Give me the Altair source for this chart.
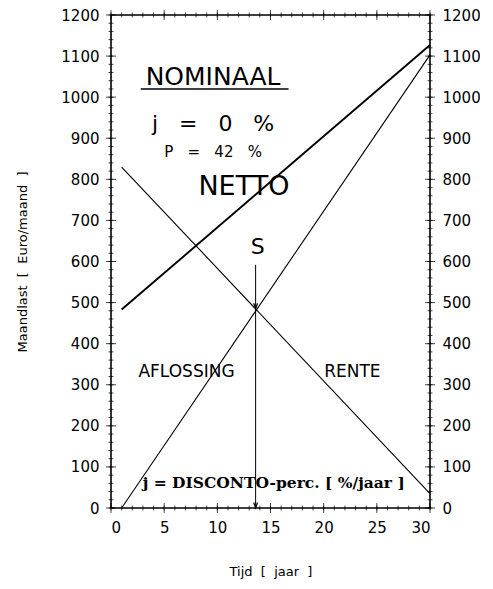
import altair as alt
import pandas as pd

# ---- data ----
netto_x = [1, 30]
netto_y = [483, 1127]
rente_x = [1, 30]
rente_y = [830, 35]
afl_x = [1, 30]
afl_y = [0, 1103]

x_ticks_major = [0, 5, 10, 15, 20, 25, 30]
x_ticks_minor = list(range(0, 31))
y_ticks_major = list(range(0, 1201, 100))
y_ticks_minor = list(range(0, 1201, 20))

s_year = 13.6
s_top = 592
arrow_heads = [485, 0]

FONT = "DejaVu Sans"
XDOM = [0, 30]
YDOM = [0, 1200]
NB = "\u00a0"

netto_df = pd.DataFrame({"series": "NETTO", "jaar": netto_x, "last": netto_y})
thin_df = pd.concat([
    pd.DataFrame({"series": "RENTE", "jaar": rente_x, "last": rente_y}),
    pd.DataFrame({"series": "AFLOSSING", "jaar": afl_x, "last": afl_y}),
])

xs = alt.Scale(domain=XDOM, nice=False, zero=False)
ys = alt.Scale(domain=YDOM, nice=False, zero=False)

AX = dict(labelFont=FONT, labelFontSize=15, labelColor="black", titleFont=FONT, titleFontSize=13,
          titleFontWeight="normal", titleColor="black", format="d")

netto = alt.Chart(netto_df).mark_line(color="black", strokeWidth=1.9).encode(
    x=alt.X("jaar:Q", scale=xs, axis=alt.Axis(orient="bottom", values=x_ticks_major, ticks=False, domain=False,
                                              grid=False, labelPadding=12,
                                              title=f"Tijd{NB}{NB}[{NB}{NB}jaar{NB}{NB}]",
                                              titlePadding=30, **AX)),
    y=alt.Y("last:Q", scale=ys, axis=alt.Axis(orient="left", values=y_ticks_major, ticks=False, domain=False,
                                              grid=False, labelPadding=12,
                                              title=f"Maandlast{NB}{NB}[{NB}{NB}Euro/maand{NB}{NB}]",
                                              titlePadding=31, **AX)),
)

thin = alt.Chart(thin_df).mark_line(color="black", strokeWidth=1.1).encode(
    x=alt.X("jaar:Q", scale=xs, axis=None),
    y=alt.Y("last:Q", scale=ys, axis=None),
    detail="series:N",
)


def xtick_layer(vals, ypos, size):
    df = pd.DataFrame({"t": vals})
    return alt.Chart(df).mark_tick(orient="vertical", size=size, thickness=1, color="black").encode(
        x=alt.X("t:Q", scale=xs, axis=None),
        y=alt.Y(datum=ypos, scale=ys, axis=None),
    )


def ytick_layer(vals, xpos, size, axis=None):
    df = pd.DataFrame({"t": vals})
    return alt.Chart(df).mark_tick(orient="horizontal", size=size, thickness=1, color="black").encode(
        x=alt.X(datum=xpos, scale=xs, axis=None),
        y=alt.Y("t:Q", scale=ys, axis=axis),
    )


right_axis = alt.Axis(orient="right", values=y_ticks_major, ticks=False, domain=False, grid=False,
                      labelPadding=12, title=None, **AX)

tick_layers = [
    xtick_layer(x_ticks_minor, 0, 5),
    xtick_layer(x_ticks_major, 0, 10),
    xtick_layer(x_ticks_minor, 1200, 5),
    xtick_layer(x_ticks_major, 1200, 10),
    ytick_layer(y_ticks_minor, 0, 5),
    ytick_layer(y_ticks_major, 0, 10),
    ytick_layer(y_ticks_minor, 30, 5),
    ytick_layer(y_ticks_major, 30, 10, axis=right_axis),
]

arrow_rule = alt.Chart().mark_rule(color="black", strokeWidth=1).encode(
    x=alt.X(datum=s_year, scale=xs, axis=None),
    y=alt.Y(datum=s_top, scale=ys, axis=None),
    y2=alt.Y2(datum=0),
)

arrow_df = pd.DataFrame({"x": [s_year] * len(arrow_heads), "y": arrow_heads})
arrows = alt.Chart(arrow_df).mark_point(shape="M-0.7,-2L0,0L0.7,-2", filled=False, color="black",
                                        strokeWidth=1.2, size=30, opacity=1).encode(
    x=alt.X("x:Q", scale=xs, axis=None),
    y=alt.Y("y:Q", scale=ys, axis=None),
)

underline = alt.Chart().mark_rule(color="black", strokeWidth=1.6).encode(
    x=alt.X(datum=2.8, scale=xs, axis=None),
    x2=alt.X2(datum=16.7),
    y=alt.Y(datum=1020, scale=ys, axis=None),
)


def label(text, x, y, size, font=FONT, weight="normal"):
    return alt.Chart().mark_text(text=text, fontSize=size, font=font, fontWeight=weight, color="black",
                                 align="center", baseline="middle").encode(
        x=alt.X(datum=x, scale=xs, axis=None),
        y=alt.Y(datum=y, scale=ys, axis=None),
    )


labels = [
    label("NOMINAAL", 9.6, 1049, 25),
    label(f"j{NB*3}={NB*3}0{NB*3}%", 9.6, 935, 22),
    label(f"P{NB*3}={NB*3}42{NB*3}%", 9.6, 866, 15),
    label("NETTO", 12.5, 781, 27),
    label("S", 13.8, 635, 22),
    label("AFLOSSING", 7.1, 331, 17),
    label("RENTE", 22.7, 331, 17),
    label("j = DISCONTO-perc. [ %/jaar ]", 15.3, 61, 15.5, font="DejaVu Serif", weight="bold"),
]

chart = alt.layer(netto, thin, *tick_layers, arrow_rule, arrows, underline, *labels).resolve_axis(
    x="independent", y="independent"
).properties(
    width=319, height=493,
    background="white",
    autosize=alt.AutoSizeParams(type="none"),
    padding={"left": 103, "top": 7, "right": 50, "bottom": 73},
).configure_view(
    stroke="black", strokeWidth=1.6
)

chart.save("out.html", embed_options={"renderer": "svg", "actions": False})
